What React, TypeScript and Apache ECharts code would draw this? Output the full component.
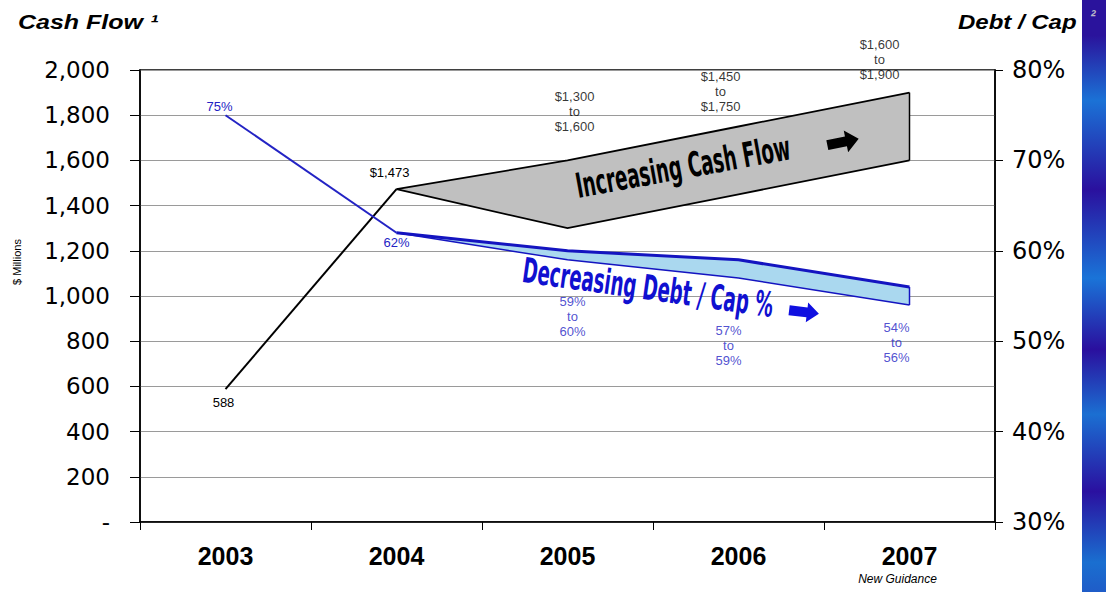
import React, { useEffect, useRef } from "react";
import * as echarts from "echarts";

// Categories and values
const years = ["2003", "2004", "2005", "2006", "2007"];
const cashFlowActual: (number | null)[] = [588, 1473, null, null, null];
const cashFlowLow: (number | null)[] = [null, 1473, 1300, 1450, 1600];
const cashFlowHigh: (number | null)[] = [null, 1473, 1600, 1750, 1900];
const debtCapActual: (number | null)[] = [75, 62, null, null, null];
const debtCapLow: (number | null)[] = [null, 62, 59, 57, 54];
const debtCapHigh: (number | null)[] = [null, 62, 60, 59, 56];
const guidanceYear = "2007";
const guidanceNote = "New Guidance";

const BLUE = "#2323c4";
const fmtMoney = (v: number) => "$" + v.toLocaleString("en-US");

// indices of categories that have a forecast range
const rangeIdx = (arr: (number | null)[]) =>
  arr.map((v, i) => (v == null ? -1 : i)).filter((i) => i >= 0);

function bandRenderer(
  low: (number | null)[],
  high: (number | null)[],
  fill: string,
  stroke: string,
  topWidth: number,
  bottomWidth: number
) {
  return (_params: any, api: any) => {
    const idx = rangeIdx(low);
    const top = idx.map((i) => api.coord([i, high[i]]));
    const bottom = idx.map((i) => api.coord([i, low[i]]));
    const last = idx[idx.length - 1];
    const a = api.coord([last, high[last]]);
    const b = api.coord([last, low[last]]);
    return {
      type: "group",
      children: [
        {
          type: "polygon",
          shape: { points: [...top, ...bottom.slice().reverse()] },
          style: { fill, stroke: "none" },
        },
        {
          type: "polyline",
          shape: { points: top },
          style: { fill: "none", stroke, lineWidth: topWidth },
        },
        {
          type: "polyline",
          shape: { points: bottom },
          style: { fill: "none", stroke, lineWidth: bottomWidth },
        },
        {
          type: "line",
          shape: { x1: a[0], y1: a[1], x2: b[0], y2: b[1] },
          style: { stroke, lineWidth: 1.5 },
        },
      ],
    };
  };
}

// Slide-edge strip: alternating dark and bright blue bands
const stripGradient =
  "linear-gradient(to bottom, #2a139c 0%, #2a139c 6%, #1b72d6 17%, #2a109e 32%, #1a74d8 47%, #2a0f9e 59%, #1b6fd2 70%, #2a10a0 83%, #1a6fd0 95%, #1f5cc8 100%)";

export default function App() {
  const ref = useRef<HTMLDivElement>(null);

  useEffect(() => {
    if (!ref.current) return;
    const chart = echarts.init(ref.current, null, { renderer: "svg" });

    const cashRangeOffsets: Record<number, [number, number]> = {
      2: [7, -22],
      3: [-18, -9],
      4: [-30, -7],
    };
    const debtRangeOffsets: Record<number, [number, number]> = {
      2: [5, 30],
      3: [-10, 41],
      4: [-13, 11],
    };

    const labelFont = "Liberation Sans, Arial, sans-serif";

    const option: any = {
      animation: false,
      backgroundColor: "transparent",
      grid: {
        left: 140,
        right: 111,
        top: 70,
        bottom: 70,
        containLabel: false,
        show: true,
        borderColor: "#000",
        borderWidth: 1.5,
      },
      xAxis: {
        type: "category",
        data: years,
        boundaryGap: true,
        axisLine: { lineStyle: { color: "#000", width: 1.5 } },
        axisTick: { show: true, length: 8, lineStyle: { color: "#000" } },
        axisLabel: {
          interval: 0,
          margin: 21,
          color: "#000",
          fontSize: 25,
          fontWeight: "bold",
          fontFamily: labelFont,
          formatter: (v: string) =>
            v === guidanceYear ? `${v}\n{g|${guidanceNote}}` : v,
          rich: {
            g: {
              fontSize: 12,
              fontStyle: "italic",
              fontWeight: "normal",
              fontFamily: labelFont,
              color: "#000",
              lineHeight: 18,
              padding: [4, 24, 0, 0],
            },
          },
        },
      },
      yAxis: [
        {
          type: "value",
          min: 0,
          max: 2000,
          interval: 200,
          axisLine: { show: true, lineStyle: { color: "#000", width: 1.5 } },
          axisTick: { show: true, length: 10, lineStyle: { color: "#000" } },
          splitLine: { lineStyle: { color: "#9a9a9a", width: 1 } },
          axisLabel: {
            margin: 30,
            color: "#000",
            fontSize: 23,
            fontFamily: "DejaVu Sans, sans-serif",
            formatter: (v: number) => (v === 0 ? "-" : v.toLocaleString("en-US")),
          },
        },
        {
          type: "value",
          position: "right",
          min: 30,
          max: 80,
          interval: 10,
          axisLine: { show: true, lineStyle: { color: "#000", width: 1.5 } },
          axisTick: { show: true, length: 8, lineStyle: { color: "#000" } },
          splitLine: { show: false },
          axisLabel: {
            margin: 17,
            color: "#000",
            fontSize: 24,
            fontFamily: "DejaVu Sans, sans-serif",
            formatter: (v: number) => `${v}%`,
          },
        },
      ],
      series: [
        {
          name: "Cash Flow Range",
          type: "custom",
          yAxisIndex: 0,
          silent: true,
          z: 3,
          data: [[1, cashFlowLow[1]]],
          renderItem: bandRenderer(cashFlowLow, cashFlowHigh, "#c0c0c0", "#000", 1.8, 1.8),
        },
        {
          name: "Debt / Cap Range",
          type: "custom",
          yAxisIndex: 1,
          silent: true,
          z: 3,
          data: [[1, debtCapLow[1]]],
          renderItem: bandRenderer(debtCapLow, debtCapHigh, "#aad8ef", "#1414c0", 3, 1.5),
        },
        {
          name: "Cash Flow",
          type: "line",
          yAxisIndex: 0,
          z: 4,
          showSymbol: true,
          symbol: "circle",
          symbolSize: 0,
          lineStyle: { color: "#000", width: 2 },
          itemStyle: { color: "#000" },
          data: cashFlowActual.map((v, i) =>
            v == null
              ? null
              : {
                  value: v,
                  label: {
                    show: true,
                    position: i === 0 ? "bottom" : "top",
                    distance: i === 0 ? 5 : 4,
                    offset: i === 0 ? [-2, 2] : [-7, -6],
                    formatter: () => (i === 0 ? String(v) : fmtMoney(v)),
                    fontSize: 13,
                    color: "#000",
                    fontFamily: labelFont,
                  },
                }
          ),
        },
        {
          name: "Debt / Cap",
          type: "line",
          yAxisIndex: 1,
          z: 4,
          showSymbol: true,
          symbol: "circle",
          symbolSize: 0,
          lineStyle: { color: BLUE, width: 2 },
          itemStyle: { color: BLUE },
          data: debtCapActual.map((v, i) =>
            v == null
              ? null
              : {
                  value: v,
                  label: {
                    show: true,
                    position: i === 0 ? "top" : "bottom",
                    distance: 2,
                    offset: i === 0 ? [-6, 0] : [0, 1],
                    formatter: () => `${v}%`,
                    fontSize: 13,
                    color: BLUE,
                    fontFamily: labelFont,
                  },
                }
          ),
        },
        {
          name: "Cash Flow Range Labels",
          type: "scatter",
          yAxisIndex: 0,
          symbolSize: 0,
          silent: true,
          z: 5,
          data: cashFlowHigh.map((v, i) =>
            v == null || i < 2
              ? null
              : {
                  value: [i, v],
                  label: {
                    show: true,
                    position: "top",
                    distance: 4,
                    offset: cashRangeOffsets[i],
                    formatter: () => `${fmtMoney(cashFlowLow[i] as number)}\nto\n${fmtMoney(v)}`,
                    fontSize: 13,
                    lineHeight: 15,
                    align: "center",
                    color: "#000",
                    fontFamily: labelFont,
                  },
                }
          ),
        },
        {
          name: "Debt / Cap Range Labels",
          type: "scatter",
          yAxisIndex: 1,
          symbolSize: 0,
          silent: true,
          z: 5,
          data: debtCapLow.map((v, i) =>
            v == null || i < 2
              ? null
              : {
                  value: [i, v],
                  label: {
                    show: true,
                    position: "bottom",
                    distance: 4,
                    offset: debtRangeOffsets[i],
                    formatter: () => `${v}%\nto\n${debtCapHigh[i]}%`,
                    fontSize: 13,
                    lineHeight: 15,
                    align: "center",
                    color: BLUE,
                    fontFamily: labelFont,
                  },
                }
          ),
        },
      ],
      graphic: [
        {
          type: "text",
          x: 18,
          y: 22,
          scaleX: 1.25,
          style: {
            text: "Cash Flow ¹",
            fill: "#000",
            fontSize: 20,
            fontStyle: "italic",
            fontWeight: "bold",
            fontFamily: labelFont,
            align: "left",
            verticalAlign: "middle",
          },
        },
        {
          type: "text",
          x: 17,
          y: 262,
          rotation: Math.PI / 2,
          style: {
            text: "$ Millions",
            fill: "#000",
            fontSize: 11,
            fontFamily: labelFont,
            align: "center",
            verticalAlign: "middle",
          },
        },
        {
          type: "text",
          x: 683,
          y: 167,
          rotation: 0.18,
          scaleX: 0.88,
          scaleY: 1.5,
          z: 10,
          style: {
            text: "Increasing Cash Flow",
            fill: "#000",
            fontSize: 23,
            fontWeight: "bold",
            fontFamily: "Liberation Sans Narrow, DejaVu Sans Condensed, sans-serif",
            align: "center",
            verticalAlign: "middle",
          },
        },
        {
          type: "polygon",
          x: 843,
          y: 142,
          rotation: 0.2,
          z: 10,
          shape: {
            points: [
              [-16, -5],
              [3, -5],
              [3, -11],
              [16, 0],
              [3, 11],
              [3, 5],
              [-16, 5],
            ],
          },
          style: { fill: "#000" },
        },
        {
          type: "text",
          x: 648,
          y: 288,
          rotation: -0.14,
          scaleX: 0.88,
          scaleY: 1.5,
          z: 10,
          style: {
            text: "Decreasing Debt / Cap %",
            fill: "#1010d0",
            fontSize: 23,
            fontWeight: "bold",
            fontFamily: "Liberation Sans Narrow, DejaVu Sans Condensed, sans-serif",
            align: "center",
            verticalAlign: "middle",
          },
        },
        {
          type: "polygon",
          x: 804,
          y: 312,
          rotation: -0.12,
          z: 10,
          shape: {
            points: [
              [-15, -5],
              [3, -5],
              [3, -10],
              [15, 0],
              [3, 10],
              [3, 5],
              [-15, 5],
            ],
          },
          style: { fill: "#1010e0" },
        },
        {
          type: "text",
          x: 958,
          y: 22,
          scaleX: 1.2,
          style: {
            text: "Debt / Cap",
            fill: "#000",
            fontSize: 20,
            fontStyle: "italic",
            fontWeight: "bold",
            fontFamily: labelFont,
            align: "left",
            verticalAlign: "middle",
          },
        },
        {
          type: "text",
          x: 1093,
          y: 16,
          z: 21,
          style: {
            text: "²",
            fill: "#b8b8c8",
            fontSize: 16,
            fontStyle: "italic",
            fontWeight: "bold",
            fontFamily: labelFont,
            align: "center",
            verticalAlign: "middle",
          },
        },
      ],
    };

    chart.setOption(option);
    return () => chart.dispose();
  }, []);

  return (
    <div style={{ position: "absolute", left: 0, top: 0, width: 1106, height: 592, background: "#fff" }}>
      <div
        style={{
          position: "absolute",
          left: 1082,
          top: 0,
          width: 24,
          height: 592,
          background: stripGradient,
        }}
      />
      <div ref={ref} style={{ position: "absolute", left: 0, top: 0, width: 1106, height: 592 }} />
    </div>
  );
}
